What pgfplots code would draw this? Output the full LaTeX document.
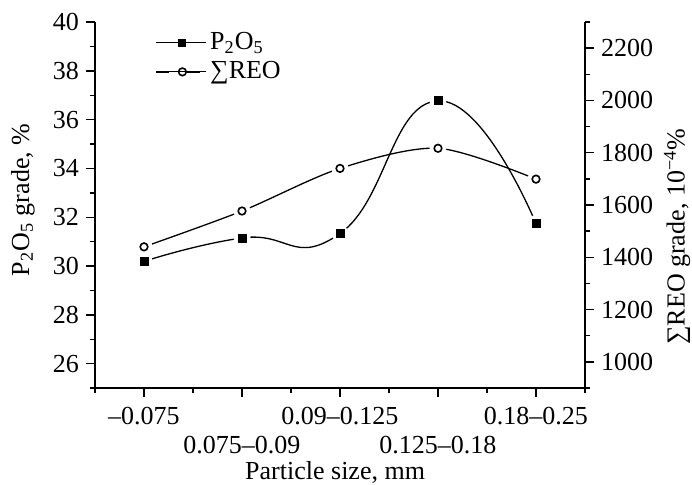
\documentclass[border=0pt]{standalone}
\usepackage{fontspec}
\setmainfont{Liberation Serif}
\usepackage{pgfplots}
\usepackage{pgfplotstable}
\pgfplotsset{compat=1.18}

% particle size class, P2O5 grade (%), sum REO grade (10^-4 %)
\pgfplotstableread{
x p2o5 reo
1 30.19 1440
2 31.15 1577
3 31.33 1740
4 36.77 1817
5 31.74 1699
}\grades

\newcommand{\lbl}{\fontsize{13}{14.5}\selectfont}

\pgfplotsset{
  base/.style={
    width=245pt, height=183pt, scale only axis,
    at={(0pt,0pt)}, anchor=south west,
    xmin=0.5, xmax=5.5,
    axis line style={-, line width=0.75pt},
    tick style={black, line width=0.7pt},
    tick align=outside,
    major tick length=4.5pt, minor tick length=2.5pt,
    tick label style={font=\lbl},
    label style={font=\lbl},
    /pgf/number format/assume math mode=true,
    /pgf/number format/1000 sep={},
  },
  curve/.style={black, line width=0.65pt, smooth, no marks, forget plot},
  halo/.style={only marks, mark=*, mark size=4pt,
    mark options={fill=white, draw=white}, forget plot},
}

\begin{document}
\begin{tikzpicture}
\useasboundingbox (-47.5pt,-48pt) rectangle (298.5pt,194pt);

\begin{axis}[base,
  axis x line*=bottom, axis y line*=left,
  ymin=25, ymax=40, ytick={26,28,...,40}, minor ytick={25,27,...,39},
  xtick={1,2,3,4,5}, minor xtick={0.5,1.5,...,5.5},
  xticklabels={{\strut –0.075}, {\strut\\0.075–0.09}, {\strut 0.09–0.125},
               {\strut\\0.125–0.18}, {\strut 0.18–0.25}},
  xticklabel style={align=center},
  xlabel={Particle size, mm},
  xlabel style={at={([yshift=-42pt]axis description cs:0.49,0)}, anchor=center},
  ylabel={P\textsubscript{2}O\textsubscript{5} grade, \%},
  ylabel style={at={([xshift=-36pt]axis description cs:0,0.514)}, anchor=center},
]
\addplot[curve, tension=0.85] table[x=x, y=p2o5] {\grades};
\addplot[halo] table[x=x, y=p2o5] {\grades};
\addplot[only marks, mark=square*, mark size=2pt, mark options={fill=black}, forget plot]
  table[x=x, y=p2o5] {\grades};
\end{axis}

\begin{axis}[base,
  axis x line=none, axis y line*=right,
  ymin=900, ymax=2300, ytick={1000,1200,...,2200}, minor ytick={900,1100,...,2300},
  ylabel={∑REO grade, 10\textsuperscript{−4}\%},
  ylabel style={at={([xshift=46pt]axis description cs:1,0.413)}, anchor=center},
  legend style={at={(axis description cs:0.122,0.975)}, anchor=north west,
    draw=none, fill=none, inner sep=0pt, row sep=3.5pt, font=\lbl,
    nodes={inner ysep=0.5pt, inner xsep=2pt}},
  legend cell align=left,
]
\addplot[curve] table[x=x, y=reo] {\grades};
\addplot[halo] table[x=x, y=reo] {\grades};
\addplot[only marks, mark=*, mark size=1.9pt, mark options={fill=white, draw=black, line width=0.8pt}, forget plot]
  table[x=x, y=reo] {\grades};

\addlegendimage{legend image code/.code={
  \draw[black, line width=0.65pt] (0pt,0pt) -- (6.5pt,0pt) (15.5pt,0pt) -- (22pt,0pt);
  \node[inner sep=0pt, minimum size=4pt, fill=black] at (11pt,0pt) {};
  \path (0pt,0pt) -- (25pt,0pt);
}}
\addlegendentry{P\textsubscript{2}O\textsubscript{5}}
\addlegendimage{legend image code/.code={
  \draw[black, line width=0.65pt] (0pt,0pt) -- (6.5pt,0pt) (15.5pt,0pt) -- (22pt,0pt);
  \node[circle, inner sep=0pt, minimum size=3.8pt, draw=black, line width=0.8pt, fill=white] at (11pt,0pt) {};
  \path (0pt,0pt) -- (25pt,0pt);
}}
\addlegendentry{∑REO}
\end{axis}
\end{tikzpicture}
\end{document}
